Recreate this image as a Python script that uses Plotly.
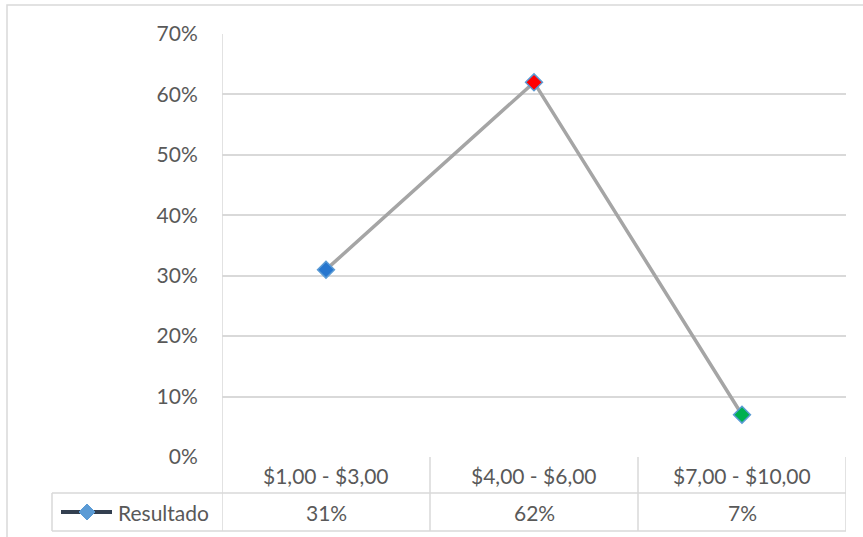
import plotly.graph_objects as go

categories = ["$1,00 - $3,00", "$4,00 - $6,00", "$7,00 - $10,00"]
values = [0.31, 0.62, 0.07]
marker_colors = ["#2676CF", "#FF0000", "#00B050"]
series_name = "Resultado"
y_ticks = [0.0, 0.1, 0.2, 0.3, 0.4, 0.5, 0.6, 0.7]

W, H = 863, 537
PL, PR, PT, PB = 222, 846, 34, 457  # plot area in pixels
GRID = "#D9D9D9"
TXT = "#595959"
FONT = "Lato"
FS = 21

def px_x(p):
    return (p - PL) / (PR - PL)

def px_y(p):
    return (PB - p) / (PB - PT)

fig = go.Figure()
fig.add_trace(go.Scatter(
    x=categories, y=values, mode="lines+markers", name=series_name,
    line=dict(color="#A5A5A5", width=3.5),
    marker=dict(symbol="diamond", size=13, color=marker_colors,
                line=dict(color="#5B9BD5", width=1.5)),
    showlegend=False, cliponaxis=False,
))

shapes = []
def hline(x0, x1, y, xref="x"):
    shapes.append(dict(type="line", xref=xref, yref="paper", x0=x0, x1=x1,
                       y0=y, y1=y, line=dict(color=GRID, width=1.5)))
def vline(x, y0, y1, xref="x"):
    shapes.append(dict(type="line", xref=xref, yref="paper", x0=x, x1=x,
                       y0=y0, y1=y1, line=dict(color=GRID, width=1.5)))

n = len(categories)
row1_bot = px_y(493)
row2_bot = px_y(531)
legend_left = px_x(52)
# outer chart border
shapes.append(dict(type="rect", xref="paper", yref="paper",
                   x0=px_x(7), x1=px_x(900), y0=px_y(5), y1=px_y(600),
                   line=dict(color=GRID, width=1.5), layer="below"))
# table grid
vline(-0.5, 1, row2_bot)
for i in range(1, n + 1):
    vline(i - 0.5, 0, row2_bot)
hline(-0.5, n - 0.5, row1_bot)
hline(-0.5, n - 0.5, row2_bot)
shapes.append(dict(type="line", xref="paper", yref="paper", x0=legend_left, x1=px_x(PL),
                   y0=row1_bot, y1=row1_bot, line=dict(color=GRID, width=1.5)))
shapes.append(dict(type="line", xref="paper", yref="paper", x0=legend_left, x1=px_x(PL),
                   y0=row2_bot, y1=row2_bot, line=dict(color=GRID, width=1.5)))
shapes.append(dict(type="line", xref="paper", yref="paper", x0=legend_left, x1=legend_left,
                   y0=row1_bot, y1=row2_bot, line=dict(color=GRID, width=1.5)))

# legend key in table
ly = px_y(512)
shapes.append(dict(type="line", xref="paper", yref="paper", x0=px_x(61), x1=px_x(112),
                   y0=ly, y1=ly, line=dict(color="#333F50", width=4)))
cx, cy, r = 87, 512, 8
path = "M{},{} L{},{} L{},{} L{},{} Z".format(
    px_x(cx), px_y(cy - r), px_x(cx + r), px_y(cy),
    px_x(cx), px_y(cy + r), px_x(cx - r), px_y(cy))
shapes.append(dict(type="path", xref="paper", yref="paper", path=path,
                   fillcolor="#5B9BD5", line=dict(color="#5B9BD5", width=1)))

annotations = []
for c, v in zip(categories, values):
    annotations.append(dict(x=c, xref="x", y=(row1_bot + 0) / 2, yref="paper",
                            text=c, showarrow=False, xanchor="center", yanchor="middle",
                            font=dict(family=FONT, size=FS, color=TXT)))
    annotations.append(dict(x=c, xref="x", y=(row1_bot + row2_bot) / 2, yref="paper",
                            text="{:.0%}".format(v), showarrow=False, xanchor="center",
                            yanchor="middle", font=dict(family=FONT, size=FS, color=TXT)))
annotations.append(dict(x=px_x(116), xref="paper", y=(row1_bot + row2_bot) / 2, yref="paper",
                        text=series_name, showarrow=False, xanchor="left", yanchor="middle",
                        font=dict(family=FONT, size=FS, color=TXT)))

fig.update_layout(
    width=W, height=H,
    margin=dict(l=PL, r=W - PR, t=PT, b=H - PB, pad=0),
    paper_bgcolor="white", plot_bgcolor="white",
    font=dict(family=FONT, size=FS, color=TXT),
    xaxis=dict(type="category", range=[-0.5, n - 0.5], showgrid=False, showticklabels=False,
               zeroline=False, showline=False, ticks=""),
    yaxis=dict(range=[0, 0.7], tickvals=y_ticks, tickformat=".0%", showgrid=True,
               gridcolor=GRID, gridwidth=1.5, zeroline=False, showline=False,
               ticks="outside", ticklen=19, tickcolor="rgba(0,0,0,0)",
               tickfont=dict(family=FONT, size=FS, color=TXT)),
    shapes=shapes, annotations=annotations,
)

fig.write_html("out.html")
